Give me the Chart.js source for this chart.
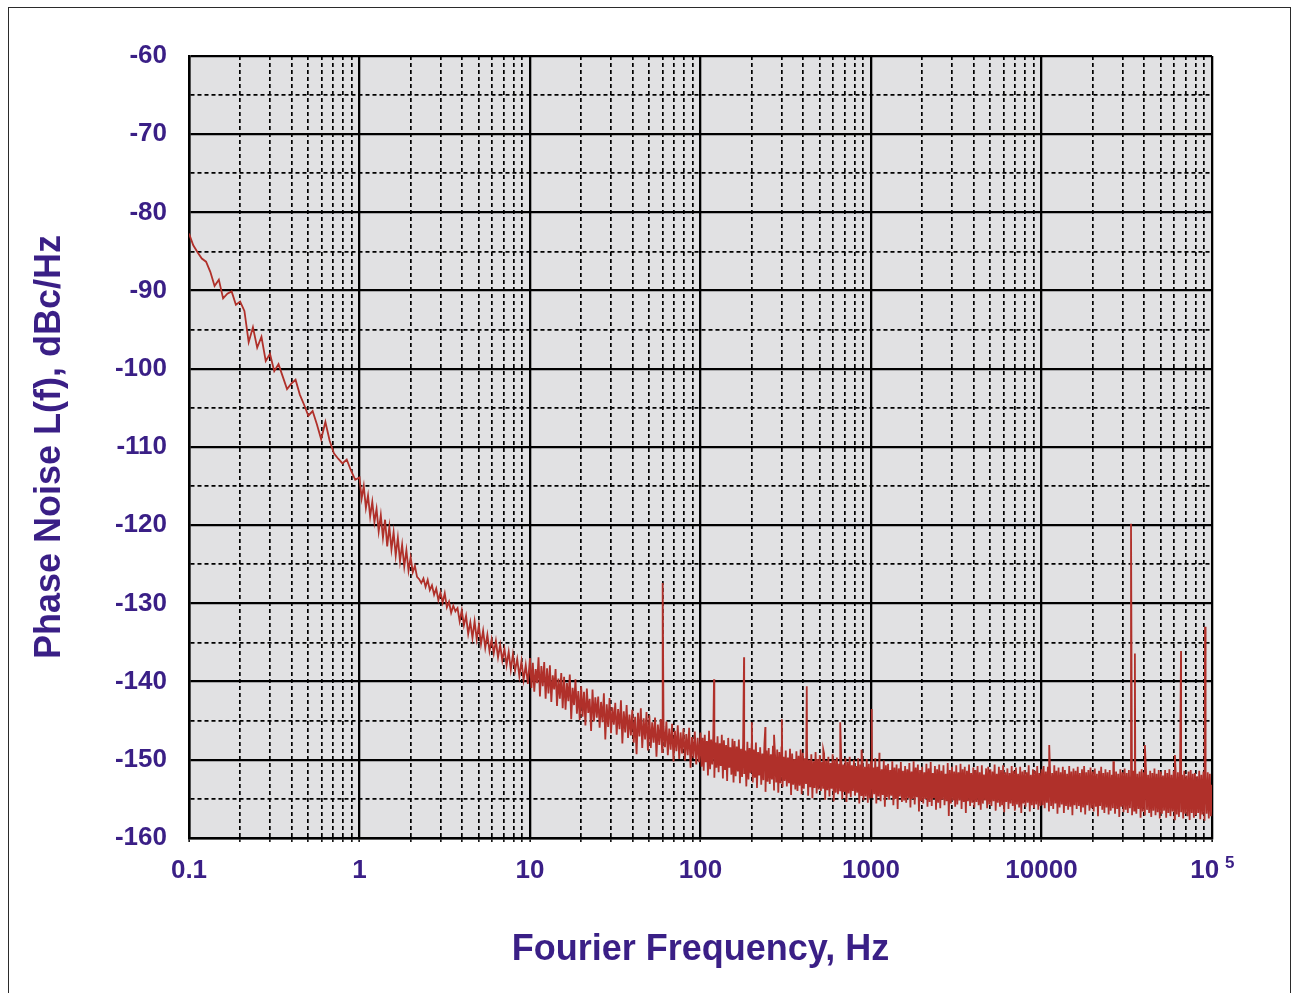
<!DOCTYPE html>
<html><head><meta charset="utf-8">
<script src="https://cdn.jsdelivr.net/npm/chart.js@4/dist/chart.umd.min.js"></script>
<style>
html,body{margin:0;padding:0;background:#fff;}
#wrap{position:relative;width:1293px;height:993px;overflow:hidden;}
#frame{position:absolute;left:8px;top:7px;width:1283px;height:1010px;border:1.5px solid #2b2b2b;box-sizing:border-box;}
canvas{position:absolute;left:0;top:0;}
</style></head><body>
<div id="wrap"><div id="frame"></div><canvas id="c" width="1293" height="993"></canvas></div>
<script>
// ---- data (dBc/Hz), each decade sampled on an even log grid ----
const decadeStarts = [0.1, 1, 10, 100, 1000, 10000];
const noise_0p1_1 = [-82.7,-84.2,-85.1,-85.9,-86.3,-87.6,-89.4,-88.6,-91.0,-90.4,
-90.1,-91.8,-91.4,-92.6,-96.6,-94.7,-97.3,-95.9,-99.0,-98.1,
-100.3,-99.4,-101.0,-102.6,-101.9,-101.4,-103.3,-104.6,-106.0,-105.4,
-107.1,-109.0,-106.8,-109.2,-110.8,-111.5,-112.1,-111.6,-113.0,-114.2];
const noise_1_10 = [-113.9,-116.6,-115.0,-117.8,-116.2,-118.9,-117.0,-119.6,
-117.9,-120.8,-118.7,-121.6,-119.3,-122.7,-120.2,-123.1,
-120.9,-123.9,-121.6,-124.6,-122.5,-125.3,-123.2,-125.8,
-124.1,-126.0,-125.2,-126.6,-126.9,-127.4,-126.8,-127.9,
-127.0,-128.3,-127.7,-128.9,-128.1,-129.6,-128.6,-129.9,
-128.7,-130.5,-129.8,-131.2,-130.3,-131.0,-130.6,-132.3,
-130.9,-132.8,-131.6,-133.9,-132.4,-134.4,-132.3,-134.6,
-132.8,-135.2,-133.5,-135.7,-134.0,-136.1,-134.6,-136.4,
-134.8,-136.9,-135.3,-137.3,-135.8,-137.9,-136.2,-138.5,
-136.5,-138.6,-137.1,-139.3,-137.4,-139.8,-137.9,-140.3];
const noise_10_100 = [-137.0,-140.8,-137.6,-141.3,-138.4,-140.2,-136.9,-141.9,-138.0,-140.6,-137.5,-142.2,
-138.3,-141.5,-137.9,-142.6,-139.2,-141.0,-138.4,-143.1,-139.6,-142.2,-138.9,-143.4,
-139.4,-143.6,-140.2,-142.5,-139.1,-144.8,-140.8,-143.0,-139.7,-144.1,-141.2,-144.9,
-140.6,-144.5,-141.3,-145.6,-140.9,-144.0,-142.2,-146.3,-141.0,-145.1,-142.0,-144.6,
-141.9,-145.9,-142.6,-145.2,-141.5,-147.4,-142.9,-145.8,-142.1,-146.6,-143.3,-145.5,
-142.7,-146.8,-143.5,-146.1,-142.4,-147.9,-143.8,-146.5,-143.0,-147.2,-144.2,-146.9,
-143.6,-147.8,-144.5,-149.3,-144.0,-147.0,-143.4,-148.5,-144.7,-147.4,-143.9,-148.8,
-144.3,-148.5,-145.2,-147.8,-144.6,-149.6,-145.5,-148.1,-144.8,-149.0,-145.7,-148.4,
-145.1,-149.4,-146.0,-148.7,-145.4,-150.2,-146.3,-148.9,-145.6,-149.9,-146.5,-149.2,
-146.0,-150.1,-146.7,-149.4,-145.9,-151.0,-147.1,-149.8,-146.4,-150.6,-147.2,-150.3];
const noise_100_1k = [-146.5,-150.9,-147.2,-151.4,-146.8,-150.3,-147.6,-152.0,-146.3,-151.2,-147.4,-150.6,-146.9,-152.3,-147.8,-151.0,
-147.0,-151.6,-147.9,-150.8,-146.8,-152.4,-147.5,-151.3,-148.1,-152.7,-147.2,-151.0,-148.4,-151.9,-147.3,-152.9,
-147.6,-152.1,-148.3,-151.5,-147.4,-153.0,-148.6,-152.2,-147.9,-151.8,-148.8,-153.4,-147.7,-152.5,-148.5,-151.7,
-148.0,-152.9,-148.7,-152.3,-147.8,-153.6,-149.0,-152.0,-148.4,-153.2,-149.2,-152.6,-147.9,-154.1,-148.8,-152.8,
-148.5,-153.1,-149.3,-152.5,-148.2,-153.8,-149.5,-152.9,-148.7,-154.2,-149.0,-153.0,-148.4,-153.5,-149.6,-152.7,
-148.8,-153.4,-149.7,-153.0,-148.6,-154.5,-149.2,-153.2,-149.9,-153.8,-148.9,-154.0,-149.5,-153.3,-148.7,-154.4,
-149.1,-153.7,-149.8,-153.1,-148.9,-154.6,-150.0,-153.5,-149.3,-154.9,-150.2,-153.6,-149.0,-154.3,-149.9,-153.8,
-149.4,-154.0,-150.3,-153.6,-149.2,-155.1,-150.1,-153.9,-149.6,-154.7,-150.4,-153.7,-149.3,-155.3,-150.0,-154.2,
-149.7,-154.4,-150.5,-153.9,-149.5,-155.0,-150.6,-154.1,-149.8,-155.4,-150.3,-154.3,-149.6,-154.8,-150.7,-154.0,
-150.0,-154.6,-150.8,-154.2,-149.8,-155.6,-150.6,-154.5,-150.1,-155.2,-150.9,-154.7,-149.9,-155.5,-150.5,-154.9];
const noise_1k_10k = [-150.3,-154.9,-151.0,-154.4,-149.8,-155.6,-150.9,-154.7,-150.4,-155.3,-151.2,-154.5,-150.1,-156.0,-150.7,-154.8,
-150.5,-155.1,-151.3,-154.6,-150.2,-155.8,-151.0,-155.0,-150.6,-156.3,-151.1,-154.7,-150.3,-155.4,-151.4,-155.2,
-150.8,-155.5,-151.2,-154.9,-150.4,-156.1,-151.5,-155.0,-150.2,-155.7,-151.0,-154.8,-150.6,-156.6,-151.3,-155.3,
-150.9,-155.6,-151.6,-155.0,-150.5,-156.0,-151.1,-155.4,-150.3,-155.9,-151.7,-154.9,-150.8,-156.4,-151.2,-155.5,
-150.6,-156.2,-151.4,-155.1,-150.7,-155.8,-151.8,-155.3,-150.4,-157.2,-151.3,-155.6,-150.9,-155.2,-151.5,-156.0,
-150.7,-155.7,-151.6,-155.2,-150.5,-156.3,-151.2,-155.4,-150.9,-156.8,-151.4,-155.3,-150.6,-155.9,-151.7,-155.5,
-151.0,-156.1,-151.3,-155.4,-150.8,-155.8,-151.6,-156.4,-150.7,-155.6,-151.9,-155.2,-151.1,-156.2,-150.9,-155.7,
-151.2,-155.9,-151.5,-155.3,-150.6,-156.5,-151.8,-155.5,-150.9,-156.0,-151.3,-155.8,-150.7,-156.7,-151.6,-155.4,
-151.1,-156.3,-151.7,-155.6,-150.8,-155.9,-151.4,-156.5,-151.0,-155.7,-151.8,-156.1,-150.9,-156.8,-151.5,-155.6,
-151.3,-156.0,-151.6,-155.5,-150.7,-156.6,-151.9,-155.8,-151.2,-156.2,-151.4,-155.7,-150.8,-156.4,-151.7,-155.9];
const noise_10k_100k = [-151.2,-155.8,-150.8,-156.2,-151.5,-155.5,-150.9,-156.6,-151.3,-155.9,-151.7,-156.3,-150.7,-155.6,-151.4,-156.9,
-151.0,-156.1,-151.6,-155.7,-150.9,-156.8,-151.3,-155.9,-151.8,-156.4,-150.8,-156.0,-151.5,-157.1,-151.1,-155.8,
-151.4,-156.3,-150.9,-155.9,-151.7,-156.7,-151.2,-156.1,-150.8,-157.0,-151.6,-155.8,-151.3,-156.5,-151.0,-156.2,
-151.5,-156.6,-151.1,-156.0,-151.8,-157.2,-151.4,-155.9,-150.9,-156.4,-151.7,-156.8,-151.2,-156.1,-151.6,-157.0,
-151.3,-156.5,-151.9,-156.2,-151.0,-156.9,-151.5,-156.3,-151.8,-157.3,-151.2,-156.0,-151.6,-156.7,-151.1,-156.4,
-151.7,-156.8,-151.3,-156.2,-151.9,-157.1,-151.4,-156.5,-151.0,-156.9,-151.8,-156.3,-151.5,-157.4,-151.2,-156.6,
-151.6,-157.0,-151.2,-156.4,-151.9,-156.8,-151.4,-157.3,-151.7,-156.5,-151.1,-157.1,-151.8,-156.7,-151.3,-157.5,
-151.5,-156.9,-152.0,-156.5,-151.3,-157.4,-151.7,-156.8,-151.2,-157.2,-151.9,-156.6,-151.4,-157.6,-151.8,-157.0,
-151.6,-157.3,-151.2,-156.7,-151.9,-157.5,-151.4,-156.9,-152.0,-157.2,-151.5,-157.7,-151.3,-156.8,-151.8,-157.4,
-151.7,-157.1,-152.1,-156.8,-151.4,-157.6,-151.9,-157.0,-151.5,-157.8,-152.0,-156.9,-151.6,-157.5,-151.8,-157.2];
const endFreq = 100000;
const endValue = -153.2;
// discrete spurs
const spurFreqs  = [60, 120, 180, 200, 240, 270, 300, 420, 525, 660, 880, 1010, 1120, 11100, 26400, 33500, 35300, 40400, 60600, 65800, 91000];
const spurLevels = [-127.4, -139.7, -136.9, -145.2, -145.8, -146.8, -144.8, -140.6, -148.7, -145.2, -148.7, -143.5, -149.1, -148.1, -150.2, -119.8, -136.4, -148.1, -149.4, -136.1, -133.0];
// axes
const xMin = 0.1, xMax = 100000;
const xDecades = [0.1, 1, 10, 100, 1000, 10000, 100000];
const xMultiples = [1, 2, 3, 4, 5, 6, 7, 8, 9];
const xTickLabels = ['0.1', '1', '10', '100', '1000', '10000', '10  '];
const xLastExponent = '5';
const yMin = -160, yMax = -60;
const yTickValues = [-160,-155,-150,-145,-140,-135,-130,-125,-120,-115,-110,-105,-100,-95,-90,-85,-80,-75,-70,-65,-60];

const TEXT = '#3a1f86';
const FONT = '"Liberation Sans", Arial, Helvetica, sans-serif';

const segments = [noise_0p1_1, noise_1_10, noise_10_100, noise_100_1k, noise_1k_10k, noise_10k_100k];
const points = [];
segments.forEach((arr, d) => {
  arr.forEach((v, i) => points.push({x: decadeStarts[d] * Math.pow(10, i / arr.length), y: v}));
});
points.push({x: endFreq, y: endValue});
spurFreqs.forEach((f, i) => points.push({x: f, y: spurLevels[i]}));
points.sort((a, b) => a.x - b.x);

const xTicks = [];
xDecades.forEach((d, k) => {
  if (k === xDecades.length - 1) { xTicks.push(d); return; }
  xMultiples.forEach(m => xTicks.push(+(d * m).toPrecision(6)));
});
const isDecade = v => xDecades.some(d => Math.abs(v / d - 1) < 1e-6);
const decadeLabel = v => { const k = xDecades.findIndex(d => Math.abs(v / d - 1) < 1e-6); return k >= 0 ? xTickLabels[k] : ''; };

const bgPlugin = {
  id: 'plotbg',
  beforeDraw(chart) {
    const {ctx, chartArea: a} = chart;
    ctx.save();
    ctx.fillStyle = '#e1e1e3';
    ctx.fillRect(a.left, a.top, a.right - a.left, a.bottom - a.top);
    ctx.restore();
  }
};
// superscript exponent of the last x tick label ("10^5")
const expPlugin = {
  id: 'exponent',
  afterDraw(chart) {
    const xs = chart.scales.x;
    const ctx = chart.ctx;
    ctx.save();
    ctx.fillStyle = TEXT;
    ctx.font = 'bold 17px ' + FONT;
    ctx.textAlign = 'left';
    ctx.textBaseline = 'alphabetic';
    ctx.fillText(xLastExponent, xs.getPixelForValue(xMax) + 13, xs.top + 30);
    ctx.restore();
  }
};

new Chart(document.getElementById('c'), {
  type: 'line',
  data: {
    datasets: [{
      data: points,
      borderColor: '#b0302a',
      borderWidth: 1.8,
      pointRadius: 0,
      fill: false,
      tension: 0
    }]
  },
  plugins: [bgPlugin, expPlugin],
  options: {
    responsive: false,
    animation: false,
    devicePixelRatio: 1,
    normalized: true,
    layout: {padding: {left: 0, top: 56, right: 81, bottom: 0}},
    plugins: {legend: {display: false}, tooltip: {enabled: false}},
    scales: {
      x: {
        type: 'logarithmic',
        min: xMin, max: xMax,
        afterBuildTicks: s => { s.ticks = xTicks.map(v => ({value: v, major: isDecade(v)})); },
        afterFit: s => { s.height = 155; },
        ticks: {
          autoSkip: false, maxRotation: 0, minRotation: 0,
          padding: 13,
          color: TEXT,
          font: {family: FONT, size: 26, weight: 'bold'},
          callback: v => decadeLabel(v)
        },
        grid: {
          color: '#000',
          lineWidth: c => (c.tick && isDecade(c.tick.value)) ? 2.3 : 1.7,
          drawTicks: true, tickLength: 4, tickColor: '#000', tickWidth: 1.5
        },
        border: {
          display: true, color: '#000', width: 2.5,
          dash: c => (c.tick && !isDecade(c.tick.value)) ? [4, 3] : []
        },
        title: {
          display: true, text: 'Fourier Frequency, Hz', color: TEXT,
          font: {family: FONT, size: 36, weight: 'bold'},
          padding: {top: 0, bottom: 21}
        }
      },
      y: {
        type: 'linear',
        min: yMin, max: yMax,
        afterBuildTicks: s => { s.ticks = yTickValues.map(v => ({value: v})); },
        afterFit: s => { s.width = 189; },
        ticks: {
          autoSkip: false, padding: 22, color: TEXT,
          font: {family: FONT, size: 26, weight: 'bold'},
          callback: v => (v % 10 === 0) ? String(v) : ''
        },
        grid: {
          color: '#000',
          lineWidth: c => (c.tick && c.tick.value % 10 === 0) ? 2.3 : 1.7,
          drawTicks: false
        },
        border: {
          display: true, color: '#000', width: 2.5,
          dash: c => (c.tick && c.tick.value % 10 !== 0) ? [4, 3] : []
        },
        title: {
          display: true, text: 'Phase Noise L(f), dBc/Hz', color: TEXT,
          font: {family: FONT, size: 36, weight: 'bold'},
          padding: {top: 28, bottom: 0}
        }
      }
    }
  }
});
</script>
</body></html>
